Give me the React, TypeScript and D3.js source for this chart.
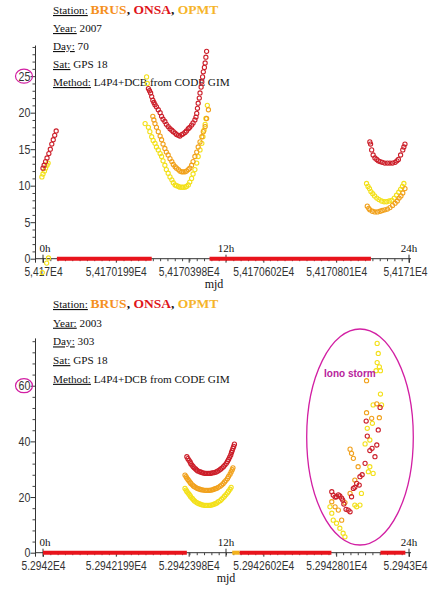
import React, { useEffect, useRef } from 'react';
import * as d3 from 'd3';

// [fraction of day after the first mjd tick, value]
type Pt = [number, number];
type Span = [number, number];

const stationNames = ['BRUS', 'ONSA', 'OPMT'];
const stationColors = ['#f5901e', '#e0141b', '#f6b42a'];
const infoKeys = ['Year:', 'Day:', 'Sat:', 'Method:'];

const hourTicks = [0, 0.5, 1];
const hourLabels = ['0h', '12h', '24h'];
const xTickVals = [0, 0.199, 0.398, 0.602, 0.801, 1];

// ---------- panel 1 : 2007 / day 70
const info2007 = ['2007', '70', 'GPS 18', 'L4P4+DCB from CODE GIM'];
const xLabels2007 = ['5,417E4', '5,4170199E4', '5,4170398E4', '5,4170602E4', '5,4170801E4', '5,4171E4'];
const yTicks2007 = [0, 5, 10, 15, 20, 25];

const red2007: Pt[] = [
  [0.000, 12.4], [0.003, 12.8], [0.007, 13.3], [0.011, 13.8], [0.016, 14.4], [0.020, 15.0], [0.024, 15.7], [0.028, 16.3], [0.032, 16.9], [0.036, 17.5],
  [0.288, 23.3], [0.291, 23.0], [0.294, 22.7], [0.297, 22.2], [0.300, 21.7], [0.303, 21.4], [0.306, 21.1], [0.310, 20.8], [0.315, 20.4], [0.320, 20.0],
  [0.324, 19.5], [0.328, 19.1], [0.333, 18.8], [0.337, 18.4], [0.342, 18.1], [0.347, 17.8], [0.352, 17.6], [0.356, 17.4], [0.361, 17.2], [0.365, 17.0],
  [0.370, 16.9], [0.374, 16.8], [0.379, 17.0], [0.383, 17.1], [0.388, 17.3], [0.392, 17.5], [0.397, 17.8], [0.401, 18.0], [0.406, 18.3], [0.410, 18.6],
  [0.415, 19.0], [0.418, 19.4], [0.420, 19.9], [0.422, 20.6], [0.424, 21.3], [0.427, 22.0], [0.429, 22.7], [0.432, 23.5], [0.434, 24.2], [0.436, 24.9],
  [0.438, 25.6], [0.441, 26.2], [0.443, 26.8], [0.445, 27.6], [0.447, 28.4],
  [0.893, 16.0], [0.895, 15.7], [0.898, 14.9], [0.902, 14.2], [0.907, 13.8], [0.912, 13.6], [0.916, 13.4], [0.921, 13.3], [0.927, 13.2], [0.934, 13.1],
  [0.941, 13.1], [0.948, 13.1], [0.955, 13.1], [0.962, 13.2], [0.967, 13.4], [0.971, 13.6], [0.977, 14.2], [0.983, 14.9], [0.986, 15.3], [0.989, 15.7],
];
const orange2007: Pt[] = [
  [0.300, 19.5], [0.303, 19.0], [0.306, 18.5], [0.310, 18.0], [0.315, 17.4], [0.320, 16.8], [0.324, 16.3], [0.328, 15.7], [0.333, 15.1], [0.337, 14.6],
  [0.342, 14.2], [0.347, 13.7], [0.352, 13.3], [0.356, 12.9], [0.361, 12.6], [0.365, 12.4], [0.370, 12.2], [0.374, 12.0], [0.379, 11.9], [0.383, 11.9],
  [0.388, 11.9], [0.392, 12.0], [0.397, 12.2], [0.401, 12.4], [0.406, 12.8], [0.410, 13.3], [0.415, 14.0], [0.420, 14.6], [0.424, 15.3], [0.429, 16.0],
  [0.434, 16.7], [0.438, 17.4], [0.443, 18.1], [0.447, 19.2], [0.452, 20.4],
  [0.886, 7.2], [0.890, 6.9], [0.893, 6.7], [0.900, 6.5], [0.907, 6.4], [0.914, 6.4], [0.921, 6.5], [0.927, 6.6], [0.934, 6.7], [0.941, 6.8],
  [0.948, 7.0], [0.955, 7.3], [0.962, 7.6], [0.968, 7.9], [0.973, 8.3], [0.978, 8.6], [0.983, 9.0], [0.989, 9.6],
];
const yellow2007: Pt[] = [
  [-0.003, 11.2], [0.000, 11.6], [0.004, 12.0], [0.007, 12.4], [0.011, 12.8], [0.014, 13.1],
  [0.015, 0.1], [0.010, -0.6], [-0.002, -1.9],
  [0.283, 24.9], [0.285, 24.0], [0.279, 18.5], [0.288, 18.0], [0.292, 17.4], [0.297, 16.7], [0.301, 16.2], [0.306, 15.8], [0.310, 15.3], [0.315, 14.9],
  [0.320, 14.4], [0.324, 14.0], [0.328, 13.4], [0.333, 12.8], [0.337, 12.2], [0.342, 11.7], [0.347, 11.2], [0.352, 10.8], [0.356, 10.4], [0.361, 10.1],
  [0.365, 10.0], [0.370, 9.9], [0.374, 9.8], [0.379, 9.8], [0.383, 9.8], [0.388, 9.8], [0.392, 9.9], [0.397, 10.1], [0.401, 10.5], [0.406, 11.0],
  [0.410, 11.6], [0.415, 12.2], [0.420, 13.1], [0.424, 14.0], [0.429, 14.9], [0.434, 15.8], [0.437, 16.7], [0.440, 17.6], [0.443, 18.4], [0.445, 19.2],
  [0.449, 21.0],
  [0.884, 10.3], [0.888, 9.9], [0.892, 9.6], [0.896, 9.2], [0.901, 8.9], [0.906, 8.6], [0.912, 8.3], [0.918, 8.1], [0.925, 7.9], [0.932, 7.8],
  [0.939, 7.8], [0.946, 7.9], [0.953, 8.0], [0.960, 8.3], [0.966, 8.7], [0.972, 9.1], [0.977, 9.5], [0.982, 9.9], [0.986, 10.3],
];
const redBars2007: Span[] = [[0.038, 0.297], [0.455, 0.896]];
const goldBars2007: Span[] = [];

// ---------- panel 2 : 2003 / day 303
const info2003 = ['2003', '303', 'GPS 18', 'L4P4+DCB from CODE GIM'];
const xLabels2003 = ['5.2942E4', '5.2942199E4', '5.2942398E4', '5.2942602E4', '5.2942801E4', '5.2943E4'];
const yTicks2003 = [0, 20, 40, 60];

const red2003: Pt[] = [
  [0.393, 34.5], [0.396, 33.8], [0.399, 33.2], [0.402, 32.6], [0.404, 32.0], [0.407, 31.5], [0.410, 31.0], [0.413, 30.5], [0.417, 30.1], [0.420, 29.7],
  [0.423, 29.4], [0.428, 29.1], [0.432, 28.9], [0.436, 28.7], [0.440, 28.6], [0.444, 28.5], [0.448, 28.5], [0.452, 28.5], [0.456, 28.5], [0.460, 28.6],
  [0.464, 28.7], [0.468, 28.8], [0.473, 29.0], [0.477, 29.3], [0.481, 29.6], [0.485, 30.0], [0.489, 30.4], [0.493, 30.9], [0.497, 31.5], [0.501, 32.1],
  [0.504, 32.8], [0.507, 33.5], [0.510, 34.3], [0.513, 35.1], [0.515, 36.0], [0.517, 36.7], [0.519, 37.5], [0.521, 38.2], [0.523, 39.0],
  [0.789, 21.9], [0.793, 20.7], [0.798, 20.0], [0.802, 20.1], [0.807, 20.8], [0.811, 20.4], [0.816, 19.6], [0.819, 18.9], [0.822, 17.5], [0.828, 15.6],
  [0.834, 15.3], [0.839, 14.7], [0.843, 20.1], [0.848, 23.1], [0.852, 23.5], [0.857, 24.9], [0.864, 24.3], [0.866, 27.3], [0.872, 28.0], [0.880, 32.1],
  [0.883, 47.3], [0.886, 41.9], [0.893, 36.7], [0.899, 37.5], [0.907, 34.5], [0.912, 38.7], [0.916, 44.1], [0.921, 52.2],
];
const orange2003: Pt[] = [
  [0.388, 27.9], [0.391, 27.3], [0.393, 26.8], [0.396, 26.3], [0.399, 25.8], [0.402, 25.3], [0.404, 24.9], [0.408, 24.4], [0.411, 24.0], [0.414, 23.7],
  [0.418, 23.4], [0.422, 23.1], [0.426, 22.9], [0.430, 22.7], [0.434, 22.6], [0.438, 22.5], [0.443, 22.4], [0.447, 22.4], [0.451, 22.4], [0.455, 22.4],
  [0.459, 22.5], [0.463, 22.6], [0.467, 22.8], [0.471, 23.0], [0.475, 23.2], [0.479, 23.5], [0.484, 23.9], [0.488, 24.3], [0.492, 24.8], [0.496, 25.4],
  [0.500, 26.0], [0.504, 26.7], [0.507, 27.4], [0.511, 28.2], [0.514, 29.0], [0.517, 29.8], [0.519, 30.5],
  [0.789, 18.3], [0.798, 16.5], [0.807, 15.3], [0.816, 11.7], [0.825, 18.0], [0.839, 21.3], [0.839, 37.2], [0.843, 35.7], [0.848, 33.9], [0.852, 26.1],
  [0.861, 30.9], [0.884, 61.8], [0.884, 50.3], [0.898, 48.3], [0.912, 53.5], [0.919, 48.5],
];
const yellow2003: Pt[] = [
  [0.388, 23.1], [0.391, 22.5], [0.393, 22.0], [0.396, 21.5], [0.399, 21.0], [0.402, 20.5], [0.404, 20.0], [0.408, 19.5], [0.411, 19.0], [0.414, 18.6],
  [0.418, 18.2], [0.422, 17.9], [0.426, 17.6], [0.430, 17.4], [0.434, 17.2], [0.438, 17.1], [0.443, 17.0], [0.447, 17.0], [0.451, 17.0], [0.455, 17.0],
  [0.459, 17.1], [0.463, 17.2], [0.467, 17.4], [0.471, 17.6], [0.475, 17.9], [0.479, 18.3], [0.484, 18.7], [0.488, 19.2], [0.492, 19.7], [0.496, 20.3],
  [0.500, 20.9], [0.504, 21.5], [0.507, 22.1], [0.511, 22.8], [0.514, 23.5],
  [0.784, 16.5], [0.789, 14.2], [0.793, 11.7], [0.802, 10.6], [0.811, 8.8], [0.820, 7.0], [0.825, 5.7], [0.852, 17.1], [0.857, 16.5], [0.866, 17.1],
  [0.870, 21.3], [0.880, 39.1], [0.886, 44.7], [0.889, 29.1], [0.893, 30.9], [0.893, 40.5], [0.900, 46.5], [0.902, 28.5], [0.902, 53.1], [0.910, 65.4],
  [0.913, 68.3], [0.913, 75.2], [0.916, 71.6], [0.919, 66.8], [0.922, 65.4], [0.922, 57.0], [0.925, 53.1],
];
const redBars2003: Span[] = [[0.0, 0.393], [0.537, 0.788], [0.922, 0.99]];
const goldBars2003: Span[] = [[0.517, 0.537]];

interface PanelData {
  info: string[];
  xLabels: string[];
  yTicks: number[];
  yMinorStep: number;
  yMax: number;
  circled: number;
  red: Pt[];
  orange: Pt[];
  yellow: Pt[];
  redBars: Span[];
  goldBars: Span[];
}

interface PanelLayout {
  headY: number;
  headStep: number;
  axisY: number;
  axisTop: number;
  mjdX: number;
  storm?: { cx: number; cy: number; rx: number; ry: number; label: string; lx: number; ly: number };
}

const SERIF = "'Liberation Serif', 'Times New Roman', serif";
const SANS = "'Liberation Sans', Arial, sans-serif";
const MAGENTA = '#d21fa3';

function drawPanel(root: d3.Selection<SVGSVGElement, unknown, null, undefined>, d: PanelData, L: PanelLayout) {
  const g = root.append('g');
  const x = d3.scaleLinear().domain([0, 1]).range([43, 409]);
  const y = d3.scaleLinear().domain([0, d.yMax]).range([L.axisY, L.axisTop]);
  const axisX = 35.5;

  // header text
  const head = g.append('g').attr('font-family', SERIF).attr('font-size', 11.2).attr('fill', '#111');
  const st = head.append('text').attr('x', 53).attr('y', L.headY);
  st.append('tspan').attr('text-decoration', 'underline').text('Station:');
  st.append('tspan').text(' ');
  stationNames.forEach((n, i) => {
    st.append('tspan').attr('font-weight', 'bold').attr('font-size', 13.5).attr('fill', stationColors[i]).text(n);
    if (i < stationNames.length - 1) st.append('tspan').attr('font-weight', 'bold').attr('font-size', 13.5).text(', ');
  });
  infoKeys.forEach((k, i) => {
    const t = head.append('text').attr('x', 53).attr('y', L.headY + (i + 1) * L.headStep);
    t.append('tspan').attr('text-decoration', 'underline').text(k);
    t.append('tspan').text(' ' + d.info[i]);
  });

  // y axis
  const yAx = g
    .append('g')
    .attr('transform', `translate(${axisX},0)`)
    .call(d3.axisLeft(y).tickValues(d.yTicks).tickSize(5).tickSizeOuter(0).tickPadding(1).tickFormat(d3.format('d')));
  yAx.attr('font-family', SANS).attr('font-size', 12.5).style('color', '#333');
  yAx.selectAll('.tick text').attr('transform', 'scale(0.85,1)');
  yAx.select('.domain').attr('d', `M0,${L.axisY + 4}V${L.axisTop}`);

  const yMinor = d3.range(0, d.yMax, d.yMinorStep).filter((v) => !d.yTicks.includes(v));
  g.append('g')
    .attr('transform', `translate(${axisX},0)`)
    .style('color', '#444')
    .call(d3.axisLeft(y).tickValues(yMinor).tickSize(3).tickFormat(() => ''))
    .select('.domain')
    .remove();

  // x axis
  g.append('line')
    .attr('x1', axisX)
    .attr('x2', 411)
    .attr('y1', L.axisY)
    .attr('y2', L.axisY)
    .attr('stroke', '#333');

  const xAx = g
    .append('g')
    .attr('transform', `translate(0,${L.axisY})`)
    .call(d3.axisBottom(x).tickValues(xTickVals).tickSize(4).tickPadding(4).tickFormat((_v, i) => d.xLabels[i]));
  xAx.attr('font-family', SANS).attr('font-size', 12.5).style('color', '#333');
  xAx.select('.domain').remove();
  const last = xTickVals.length - 1;
  xAx
    .selectAll<SVGTextElement, number>('.tick text')
    .attr('transform', (_v, i) => (i === last ? 'translate(-4,0) scale(0.82,1)' : 'scale(0.82,1)'));

  g.append('g')
    .attr('transform', `translate(0,${L.axisY})`)
    .style('color', '#444')
    .call(d3.axisBottom(x).tickValues(d3.range(0, 1.001, 0.02)).tickSize(2.5).tickFormat(() => ''))
    .select('.domain')
    .remove();

  hourTicks.forEach((h, i) => {
    g.append('line')
      .attr('x1', x(h))
      .attr('x2', x(h))
      .attr('y1', L.axisY - 4)
      .attr('y2', L.axisY + 4)
      .attr('stroke', '#333');
    g.append('text')
      .attr('x', x(h) + (i === 0 ? 2 : 0))
      .attr('y', L.axisY - 7)
      .attr('text-anchor', 'middle')
      .attr('font-family', SERIF)
      .attr('font-size', 11)
      .attr('fill', '#111')
      .text(hourLabels[i]);
  });

  g.append('text')
    .attr('x', L.mjdX)
    .attr('y', L.axisY + 29)
    .attr('text-anchor', 'middle')
    .attr('font-family', SERIF)
    .attr('font-size', 12)
    .attr('fill', '#111')
    .text('mjd');

  // visibility bars at zero
  const bar = (spans: Span[], color: string) =>
    g
      .append('g')
      .selectAll('line')
      .data(spans)
      .join('line')
      .attr('x1', (s) => x(s[0]))
      .attr('x2', (s) => x(s[1]))
      .attr('y1', y(0))
      .attr('y2', y(0))
      .attr('stroke', color)
      .attr('stroke-width', 4);
  bar(d.redBars, '#e8141c');
  bar(d.goldBars, '#f3b21c');

  // markers
  const dots = (pts: Pt[], color: string) =>
    g
      .append('g')
      .selectAll('circle')
      .data(pts)
      .join('circle')
      .attr('cx', (p) => x(p[0]))
      .attr('cy', (p) => y(p[1]))
      .attr('r', 2.1)
      .attr('fill', 'none')
      .attr('stroke', color)
      .attr('stroke-width', 1.1);
  dots(d.yellow, '#f3e01a');
  dots(d.orange, '#f1a11c');
  dots(d.red, '#cc1f2a');

  // annotations
  g.append('ellipse')
    .attr('cx', 24)
    .attr('cy', y(d.circled))
    .attr('rx', 8.5)
    .attr('ry', 7)
    .attr('fill', 'none')
    .attr('stroke', MAGENTA)
    .attr('stroke-width', 1.2);

  if (L.storm) {
    const s = L.storm;
    g.append('ellipse')
      .attr('cx', s.cx)
      .attr('cy', s.cy)
      .attr('rx', s.rx)
      .attr('ry', s.ry)
      .attr('fill', 'none')
      .attr('stroke', MAGENTA)
      .attr('stroke-width', 1.3);
    g.append('text')
      .attr('x', s.lx)
      .attr('y', s.ly)
      .attr('font-family', SANS)
      .attr('font-weight', 'bold')
      .attr('font-size', 10)
      .attr('fill', '#b8239c')
      .text(s.label);
  }
}

const panel2007: PanelData = {
  info: info2007,
  xLabels: xLabels2007,
  yTicks: yTicks2007,
  yMinorStep: 1,
  yMax: 29.2,
  circled: 25,
  red: red2007,
  orange: orange2007,
  yellow: yellow2007,
  redBars: redBars2007,
  goldBars: goldBars2007,
};

const panel2003: PanelData = {
  info: info2003,
  xLabels: xLabels2003,
  yTicks: yTicks2003,
  yMinorStep: 4,
  yMax: 77,
  circled: 60,
  red: red2003,
  orange: orange2003,
  yellow: yellow2003,
  redBars: redBars2003,
  goldBars: goldBars2003,
};

const App: React.FC = () => {
  const ref = useRef<SVGSVGElement>(null);

  useEffect(() => {
    if (!ref.current) return;
    const svg = d3.select(ref.current);
    svg.selectAll('*').remove();
    drawPanel(svg, panel2007, { headY: 14, headStep: 18, axisY: 258.7, axisTop: 45.5, mjdX: 214 });
    drawPanel(svg, panel2003, {
      headY: 308,
      headStep: 18.7,
      axisY: 552.7,
      axisTop: 338.4,
      mjdX: 226,
      storm: { cx: 360, cy: 437, rx: 53.3, ry: 108, label: 'Iono storm', lx: 324, ly: 377 },
    });
  }, []);

  return (
    <svg
      ref={ref}
      width={429}
      height={589}
      style={{ position: 'absolute', left: 0, top: 0, background: '#fff', display: 'block' }}
    />
  );
};

export default App;
